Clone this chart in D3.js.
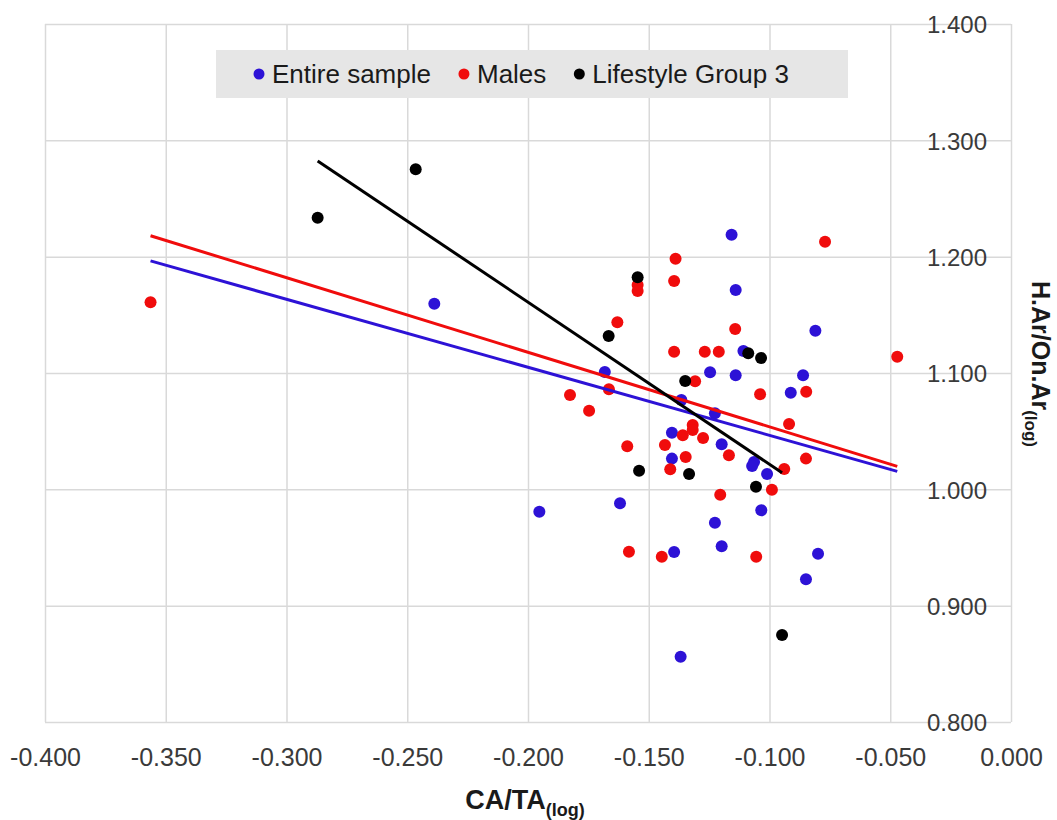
<!DOCTYPE html>
<html>
<head>
<meta charset="utf-8">
<script src="https://cdn.jsdelivr.net/npm/d3@7/dist/d3.min.js"></script>
<style>
  html, body { margin: 0; padding: 0; background: #fff; }
  svg { display: block; font-family: "Liberation Sans", Arial, sans-serif; }
  .grid line { stroke: #d9d9d9; stroke-width: 1.5; }
  .grid path { display: none; }
  .tick-labels text { fill: #3a3a3a; }
</style>
</head>
<body>
<div id="chart"></div>
<script>
'use strict';

// ------------------------------------------
// Daten
// ------------------------------------------
const seriesNames = ['Entire sample', 'Males', 'Lifestyle Group 3'];

// blaue Punkte (nur die, die nicht zu einer anderen Gruppe gehören)
const entireX = [-0.2388, -0.1953, -0.1157, -0.1140, -0.0810, -0.1108, -0.1682, -0.1246, -0.1140,
  -0.0861, -0.0912, -0.1365, -0.1226, -0.1404, -0.1198, -0.1404, -0.1064, -0.1072, -0.1010,
  -0.1619, -0.1034, -0.1226, -0.1198, -0.1395, -0.0799, -0.0849, -0.1368];
const entireY = [1.1596, 0.9808, 1.2189, 1.1714, 1.1364, 1.1189, 1.1009, 1.1006, 1.0980,
  1.0980, 1.0831, 1.0768, 1.0654, 1.0487, 1.0387, 1.0264, 1.0235, 1.0201, 1.0132,
  0.9880, 0.9820, 0.9713, 0.9510, 0.9461, 0.9447, 0.9227, 0.8561];

const malesX = [-0.3563, -0.1826, -0.1747, -0.0770, -0.1389, -0.1546, -0.1546, -0.1395, -0.1630,
  -0.1142, -0.1395, -0.1268, -0.1210, -0.1308, -0.1665, -0.1039, -0.0848, -0.0919, -0.1359,
  -0.1318, -0.1318, -0.1275, -0.1589, -0.1433, -0.1168, -0.1347, -0.0849, -0.0939, -0.1411,
  -0.0990, -0.1204, -0.1582, -0.1446, -0.1055, -0.0471];
const malesY = [1.1608, 1.0811, 1.0676, 1.2129, 1.1983, 1.1757, 1.1705, 1.1791, 1.1436,
  1.1378, 1.1183, 1.1183, 1.1183, 1.0929, 1.0860, 1.0817, 1.0839, 1.0562, 1.0464,
  1.0553, 1.0510, 1.0441, 1.0370, 1.0381, 1.0293, 1.0278, 1.0264, 1.0175, 1.0172,
  0.9997, 0.9954, 0.9464, 0.9421, 0.9421, 1.1140];

const groupX = [-0.2871, -0.2465, -0.1546, -0.1666, -0.1349, -0.1088, -0.1035, -0.1540, -0.1333,
  -0.1056, -0.0948];
const groupY = [1.2335, 1.2751, 1.1823, 1.1318, 1.0931, 1.1169, 1.1129, 1.0160, 1.0132,
  1.0023, 0.8748];

// lineare Trendlinien: y = slope * x + intercept
const trendSlope = [-0.585, -0.641, -1.394];
const trendIntercept = [0.9879, 0.9896, 0.8821];

const xTicks = [-0.4, -0.35, -0.3, -0.25, -0.2, -0.15, -0.1, -0.05, 0];
const yTicks = [0.8, 0.9, 1.0, 1.1, 1.2, 1.3, 1.4];

const COLORS = ['#2d12d6', '#f00c0c', '#000000'];

// ------------------------------------------
// Aufbau
// ------------------------------------------
const width = 1057;
const height = 820;
const plot = { left: 45, right: 1011, top: 24, bottom: 722 };

const svg = d3.select('#chart')
  .append('svg')
  .attr('width', width)
  .attr('height', height);

svg.append('rect').attr('width', width).attr('height', height).attr('fill', '#fff');

const x = d3.scaleLinear().domain([-0.4, 0]).range([plot.left, plot.right]);
const y = d3.scaleLinear().domain([0.8, 1.4]).range([plot.bottom, plot.top]);

// Gitternetz
svg.append('g')
  .attr('class', 'grid')
  .attr('transform', `translate(0,${plot.bottom})`)
  .call(d3.axisBottom(x).tickValues(xTicks).tickSize(-(plot.bottom - plot.top)).tickFormat(''));

svg.append('g')
  .attr('class', 'grid')
  .attr('transform', `translate(${plot.right},0)`)
  .call(d3.axisLeft(y).tickValues(yTicks).tickSize(plot.right - plot.left).tickFormat(''));

// Achsenbeschriftung
const xAxis = svg.append('g')
  .attr('class', 'tick-labels')
  .attr('transform', `translate(0,${plot.bottom})`)
  .call(d3.axisBottom(x).tickValues(xTicks).tickSize(0).tickPadding(26).tickFormat(d => d.toFixed(3)));
xAxis.select('.domain').remove();
xAxis.selectAll('text').attr('font-size', 25).attr('font-family', '"Liberation Sans", Arial, sans-serif');

const yAxis = svg.append('g')
  .attr('class', 'tick-labels')
  .attr('transform', `translate(${plot.right},0)`)
  .call(d3.axisLeft(y).tickValues(yTicks).tickSize(0).tickPadding(24).tickFormat(d => d.toFixed(3)));
yAxis.select('.domain').remove();
yAxis.selectAll('text').attr('font-size', 24).attr('dy', '0.37em').attr('font-family', '"Liberation Sans", Arial, sans-serif');

// Punkte
const series = [
  { xs: entireX, ys: entireY },
  { xs: malesX, ys: malesY },
  { xs: groupX, ys: groupY }
];

const gPoints = svg.append('g');
series.forEach((s, i) => {
  gPoints.append('g')
    .selectAll('circle')
    .data(s.xs.map((v, j) => [v, s.ys[j]]))
    .join('circle')
    .attr('cx', d => x(d[0]))
    .attr('cy', d => y(d[1]))
    .attr('r', 6)
    .attr('fill', COLORS[i]);
});

// Trendlinien, jeweils über den x-Bereich der zugehörigen Daten
const trendRanges = [
  d3.extent(entireX.concat(malesX, groupX)),
  d3.extent(malesX),
  d3.extent(groupX)
];

const line = d3.line().x(d => x(d[0])).y(d => y(d[1]));
svg.append('g')
  .selectAll('path')
  .data(trendRanges.map((r, i) => r.map(v => [v, trendSlope[i] * v + trendIntercept[i]])))
  .join('path')
  .attr('d', line)
  .attr('fill', 'none')
  .attr('stroke', (d, i) => COLORS[i])
  .attr('stroke-width', 3);

// Achsentitel
svg.append('text')
  .attr('x', 525)
  .attr('y', 809)
  .attr('text-anchor', 'middle')
  .attr('font-size', 27)
  .attr('font-weight', 'bold')
  .attr('fill', '#1a1a1a')
  .call(t => {
    t.append('tspan').text('CA/TA');
    t.append('tspan').attr('font-size', 18).attr('dy', 7).text('(log)');
  });

svg.append('text')
  .attr('transform', 'translate(1032,364) rotate(90)')
  .attr('text-anchor', 'middle')
  .attr('font-size', 25)
  .attr('font-weight', 'bold')
  .attr('fill', '#1a1a1a')
  .call(t => {
    t.append('tspan').text('H.Ar/On.Ar');
    t.append('tspan').attr('font-size', 17).attr('dy', 7).text('(log)');
  });

// Legende
const legend = svg.append('g');
legend.append('rect')
  .attr('x', 216).attr('y', 50)
  .attr('width', 632).attr('height', 48)
  .attr('fill', '#e6e6e6');

const legendItems = legend.selectAll('g.item')
  .data(seriesNames)
  .join('g')
  .attr('class', 'item');

legendItems.append('circle')
  .attr('r', 5.5)
  .attr('cy', 74)
  .attr('fill', (d, i) => COLORS[i]);

legendItems.append('text')
  .attr('y', 83)
  .attr('font-size', 26)
  .attr('fill', '#1a1a1a')
  .text(d => d);

// Einträge nebeneinander anordnen
let cursor = 253;
legendItems.each(function () {
  const g = d3.select(this);
  g.select('circle').attr('cx', cursor + 6);
  g.select('text').attr('x', cursor + 19);
  cursor += 19 + g.select('text').node().getComputedTextLength() + 27;
});
</script>
</body>
</html>
